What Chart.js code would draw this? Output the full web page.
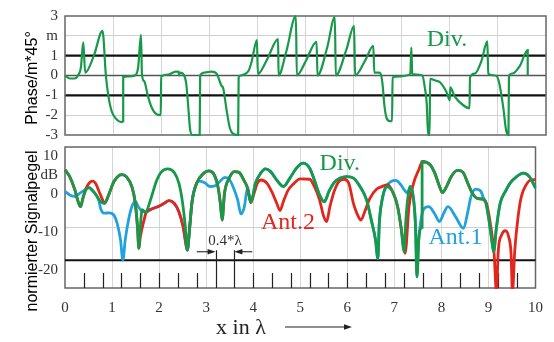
<!DOCTYPE html>
<html>
<head>
<meta charset="utf-8">
<script src="https://cdn.jsdelivr.net/npm/chart.js@4.4.1/dist/chart.umd.min.js"></script>
<style>
  body { margin: 0; background: #fff; }
  #wrap { position: relative; width: 554px; height: 342px; }
  canvas { position: absolute; left: 0; }
  #phase { top: 0; }
  #level { top: 140px; }
</style>
</head>
<body>
<div id="wrap">
  <canvas id="phase" width="554" height="140"></canvas>
  <canvas id="level" width="554" height="202"></canvas>
</div>
<script>
// x positions in wavelengths
const xTickLabels = ['0', '1', '2', '3', '4', '5', '6', '7', '8', '9', '10'];

// top panel: phase (m*45 deg) of the diversity signal
const phaseTicks = [3, 2, 1, 0, -1, -2, -3];
const phaseLabels = ['3', 'm', '1', '0', '-1', '-2', '-3'];
const phaseX = [0, 0.1, 0.2, 0.27, 0.33, 0.38, 0.42, 0.6, 0.78, 0.85, 0.9, 0.97, 1.05, 1.18, 1.21, 1.21, 1.3, 1.45, 1.52, 1.58,
  1.6, 1.65, 1.72, 1.8, 1.9, 1.99, 2.0, 2.15, 2.3, 2.36, 2.37, 2.38, 2.45, 2.52, 2.56, 2.6, 2.65, 2.8, 2.81, 2.9,
  3.05, 3.15, 3.25, 3.29, 3.36, 3.43, 3.5, 3.6, 3.61, 3.65, 3.72, 3.82, 3.88, 3.99, 4.01, 4.2, 4.43, 4.44, 4.6, 4.8,
  4.82, 5.0, 5.23, 5.25, 5.45, 5.61, 5.63, 5.85, 6.01, 6.03, 6.25, 6.41, 6.43, 6.52, 6.56, 6.6, 6.64, 6.68, 6.75, 6.8,
  6.81, 6.95, 7.1, 7.18, 7.2, 7.22, 7.3, 7.43, 7.48, 7.52, 7.55, 7.58, 7.59, 7.7, 7.8, 7.93, 8.0, 8.01, 8.1, 8.28,
  8.41, 8.42, 8.52, 8.66, 8.78, 8.8, 8.95, 9.02, 9.11, 9.17, 9.22, 9.23, 9.3, 9.46, 9.62, 9.62];
const phaseY = [0, -0.15, -0.15, 0, 0.4, 1.67, 0.15, 1.0, 2.25, 0, -1.0, -1.8, -2.15, -2.35, -2.3, -0.08, -0.05, 0, 0.4, 2.05,
  0.05, -0.3, -1.0, -1.6, -1.95, -2.0, -0.05, 0.05, 0.2, 0.2, 0.0, 0.15, 0.1, -0.4, -1.5, -2.7, -3.0, -3.0, 0.0, 0.15,
  0.2, 0.1, -0.5, -0.65, -1.75, -2.67, -2.95, -3.0, -0.1, 0, 0.05, 0.25, 0.7, 1.78, 0.08, 0.8, 1.83, 0.0, 1.2, 3.0,
  0.0, 0.7, 1.7, 0.0, 1.4, 2.95, 0.0, 1.3, 2.5, 0.0, 0.8, 1.5, 0.15, 0.15, 0.1, -0.4, -1.5, -2.1, -2.3, -2.3,
  -0.1, -0.05, 0.0, 0.1, 1.42, 0.08, 0.05, 0.0, -0.6, -1.4, -3.0, -3.0, -0.17, -0.25, -0.35, -0.83, -1.25, -0.6, -1.05, -1.5,
  -1.65, -0.08, 0.1, 0.75, 1.72, 0.08, 0.0, -0.3, -1.58, -2.75, -3.0, 0.0, 0.1, 0.5, 1.28, 0.0];

// bottom panel: normalised signal level in dB
const levelTicks = [10, 5, 0, -10, -20];
const levelLabels = ['10', 'dB', '0', '-10', '-20'];
const floorLevel = -18.6;

const divX = [0, 0.1, 0.21, 0.28, 0.33, 0.38, 0.45, 0.51, 0.58, 0.66,
  0.76, 0.84, 0.94, 1.04, 1.14, 1.21, 1.31, 1.42, 1.49, 1.54,
  1.57, 1.6, 1.64, 1.71, 1.84, 1.94, 2.04, 2.18, 2.32, 2.42,
  2.49, 2.55, 2.6, 2.65, 2.7, 2.8, 2.95, 3.05, 3.15, 3.25,
  3.3, 3.34, 3.39, 3.49, 3.6, 3.7, 3.8, 3.88, 3.95, 4.05,
  4.16, 4.26, 4.37, 4.5, 4.64, 4.78, 4.92, 5.06, 5.2, 5.3,
  5.41, 5.51, 5.61, 5.72, 5.85, 5.99, 6.13, 6.27, 6.41, 6.51,
  6.6, 6.65, 6.68, 6.74, 6.83, 6.96, 7.07, 7.14, 7.21, 7.24,
  7.29, 7.34, 7.41, 7.45, 7.48, 7.52, 7.59, 7.59, 7.76, 7.86,
  7.96, 8.02, 8.11, 8.21, 8.34, 8.46, 8.56, 8.66, 8.76, 8.87,
  8.94, 9.0, 9.07, 9.11, 9.17, 9.25, 9.36, 9.46, 9.6, 9.74,
  9.87, 10];
const divY = [5.1, 3.3, -0.2, -3.3, -4.6, -2.4, 0, 0.4, -0.3, -1.5,
  -3.3, -3.7, -1.1, 2.0, 3.5, 3.8, 3.2, 0.7, -3.3, -9.8,
  -15.5, -10, -5.4, -6, -1.9, 2.0, 4.4, 5.3, 4.4, 1.6,
  -2.8, -9, -16, -10, -3.3, 1.6, 4.2, 4.8, 4.2, 0.7,
  -3.5, -8.1, -1.1, 2.9, 4.6, 4.4, 2.4, 0.3, -3.5, 1.6,
  4.2, 5.3, 4.6, 2.4, 0.7, 2.9, 5.5, 6.8, 5.5, 2.4,
  -1.5, -3.3, -0.6, 1.7, 2.9, 3.3, 2.9, 0.7, -2.8, -8.1,
  -13.3, -18.2, -9, -2.8, 0.7, -0.6, -4.6, -9.8, -16.4, -9,
  -1.9, 0.7, -2.8, -9.8, -23, -13, -10, 7.2, 6.4, 4.2,
  0.7, -0.9, 0.7, 3.3, 4.9, 4.4, 1.6, -1.1, -2.4, -2.6,
  -3.3, -7.2, -13.3, -16.4, -10, -3.7, -0.6, 1.6, 3.3, 4.2,
  3.3, 0.3];

const ant2X = [0, 0.1, 0.21, 0.28, 0.33, 0.38, 0.45, 0.52, 0.59, 0.66,
  0.73, 0.8, 0.84, 0.94, 1.04, 1.14, 1.21, 1.31, 1.42, 1.49,
  1.54, 1.57, 1.6, 1.68, 1.73, 1.84, 1.97, 2.11, 2.21, 2.32,
  2.42, 2.51, 2.58, 2.6, 2.65, 2.7, 2.8, 2.95, 3.05, 3.15,
  3.25, 3.3, 3.34, 3.39, 3.49, 3.6, 3.7, 3.8, 3.88, 3.95,
  4.02, 4.09, 4.17, 4.29, 4.4, 4.5, 4.57, 4.64, 4.74, 4.85,
  5.0, 5.2, 5.3, 5.41, 5.5, 5.56, 5.63, 5.72, 5.82, 5.93,
  6.03, 6.13, 6.2, 6.29, 6.37, 6.48, 6.62, 6.72, 6.86, 6.96,
  7.07, 7.14, 7.23, 7.31, 7.41, 7.52, 7.6, 7.76, 7.86, 7.96,
  8.02, 8.11, 8.21, 8.34, 8.46, 8.56, 8.66, 8.76, 8.87, 8.94,
  8.98, 9.04, 9.12, 9.17, 9.21, 9.28, 9.36, 9.43, 9.48, 9.51,
  9.56, 9.63, 9.7, 9.8, 9.9, 10];
const ant2Y = [5.1, 3.3, -0.2, -3.3, -4.6, -2.4, 0.3, 1.7, 2.1, 1.3,
  -0.8, -2.8, -3.7, -1.1, 2.0, 3.5, 3.8, 3.2, 0.7, -3.3,
  -9.8, -15.5, -12.6, -8.1, -6, -5.2, -4.6, -3.7, -3.0, -3.7,
  -5.9, -9.8, -15.1, -16, -10, -3.3, 1.6, 4.2, 4.8, 4.2,
  0.7, -3.5, -8.1, -1.1, 2.9, 4.6, 4.4, 2.4, 0.3, -3.5,
  -1.0, 1.6, 2.4, 1.6, -0.8, -3.7, -5.6, -3.3, -0.3, 1.3,
  2.7, 2.6, 0.7, -2.8, -7.2, -8.5, -4.6, -0.6, 2.0, 2.6,
  1.6, -3.7, -6.2, -8.1, -5.9, -2.4, 0, 0.6, 1.2, -0.6,
  -4.6, -9.8, -16.8, -4.6, 1.6, 5.1, 7.3, 6.4, 4.2, 0.7,
  -0.9, 0.7, 3.3, 4.9, 4.4, 1.6, -1.1, -2.4, -2.6, -3.3,
  -4.8, -9, -16.8, -27, -16, -12, -10.9, -12.5, -16.8, -27,
  -16, -7.2, -1.9, 1.1, 2.4, 2.5];

const ant1X = [0, 0.1, 0.21, 0.31, 0.42, 0.45, 0.51, 0.58, 0.66, 0.72,
  0.76, 0.83, 0.94, 1.04, 1.11, 1.18, 1.23, 1.28, 1.35, 1.42,
  1.5, 1.55, 1.62, 1.73, 1.84, 1.97, 2.11, 2.21, 2.32, 2.42,
  2.51, 2.58, 2.6, 2.65, 2.7, 2.8, 2.86, 2.98, 3.08, 3.19,
  3.29, 3.4, 3.5, 3.57, 3.67, 3.74, 3.81, 3.88, 3.95, 4.05,
  4.16, 4.26, 4.37, 4.5, 4.64, 4.78, 4.92, 5.06, 5.2, 5.3,
  5.41, 5.51, 5.61, 5.72, 5.85, 5.99, 6.13, 6.27, 6.41, 6.51,
  6.6, 6.65, 6.68, 6.74, 6.83, 6.93, 7.03, 7.14, 7.21, 7.28,
  7.34, 7.41, 7.45, 7.48, 7.52, 7.56, 7.62, 7.73, 7.85, 7.96,
  8.05, 8.14, 8.3, 8.47, 8.56, 8.63, 8.73, 8.84, 8.9, 8.94,
  9.0, 9.07, 9.11, 9.17, 9.25, 9.36, 9.46, 9.6, 9.74, 9.87, 10];
const ant1Y = [-0.6, -1.5, -1.9, -1.1, -0.2, 0, 0.4, -0.3, -1.5, -3.0,
  -5.2, -6.3, -6.2, -6.8, -9, -13.3, -18.6, -13.3, -8.1, -4.6,
  -3.3, -4.4, -5.6, -6, -5.2, -4.6, -3.7, -3.0, -3.7, -5.9,
  -9.8, -15.1, -16, -10, -3.3, 1.6, 2.1, 1.6, 0.7, 0.9,
  2.0, 3.1, 2.4, 0.7, -2.8, -6.5, -4.7, 0.3, -3.5, 1.6,
  4.2, 5.3, 4.6, 2.4, 0.7, 2.9, 5.5, 6.8, 5.5, 2.4,
  -1.5, -3.3, -0.6, 1.7, 2.9, 3.3, 2.9, 0.7, -2.8, -8.1,
  -13.3, -18.2, -9, -2.8, 0.7, 2.0, 2.3, 1.1, -0.2, -1.0,
  0.7, -2.8, -9.8, -23, -13, -8.5, -5.3, -4.6, -6.3, -8.5,
  -6.3, -4.6, -7.2, -10.3, -6, -1.9, 0, -0.6, -2.5, -3.3,
  -7.2, -13.3, -16.4, -10, -3.7, -0.6, 1.6, 3.3, 4.2, 3.3, 0.3];

const SERIF = "'Liberation Serif', 'Times New Roman', serif";
const SANS = "'Liberation Sans', Arial, sans-serif";
const GREEN = '#17994a';
const RED = '#e2261d';
const BLUE = '#22a2dc';

function pts(xs, ys) {
  return xs.map((x, i) => ({ x: x, y: ys[i] }));
}

// frame round the plot area
function drawFrame(chart) {
  const a = chart.chartArea, ctx = chart.ctx;
  ctx.save();
  ctx.strokeStyle = '#666';
  ctx.lineWidth = 1.5;
  ctx.strokeRect(a.left, a.top, a.right - a.left, a.bottom - a.top);
  ctx.restore();
}

function drawHLine(chart, v, color, w) {
  const a = chart.chartArea, ctx = chart.ctx;
  const y = chart.scales.y.getPixelForValue(v);
  ctx.save();
  ctx.strokeStyle = color;
  ctx.lineWidth = w;
  ctx.beginPath();
  ctx.moveTo(a.left, y);
  ctx.lineTo(a.right, y);
  ctx.stroke();
  ctx.restore();
}

function drawLabel(chart, text, xv, yv, color, font) {
  const ctx = chart.ctx;
  ctx.save();
  ctx.fillStyle = color;
  ctx.font = font;
  ctx.textAlign = 'center';
  ctx.textBaseline = 'middle';
  ctx.fillText(text, chart.scales.x.getPixelForValue(xv), chart.scales.y.getPixelForValue(yv));
  ctx.restore();
}

function drawVText(ctx, text, x, y) {
  ctx.save();
  ctx.translate(x, y);
  ctx.rotate(-Math.PI / 2);
  ctx.fillStyle = '#000';
  ctx.font = '16px ' + SANS;
  ctx.textAlign = 'center';
  ctx.textBaseline = 'middle';
  ctx.fillText(text, 0, 0);
  ctx.restore();
}

// horizontal arrow ending at x2 with a filled head
function drawArrow(ctx, x1, y, x2, color) {
  const dir = x2 > x1 ? 1 : -1;
  ctx.save();
  ctx.strokeStyle = color;
  ctx.fillStyle = color;
  ctx.lineWidth = 1.1;
  ctx.beginPath();
  ctx.moveTo(x1, y);
  ctx.lineTo(x2 - dir * 5, y);
  ctx.stroke();
  ctx.beginPath();
  ctx.moveTo(x2, y);
  ctx.lineTo(x2 - dir * 8, y - 2.8);
  ctx.lineTo(x2 - dir * 8, y + 2.8);
  ctx.closePath();
  ctx.fill();
  ctx.restore();
}

// fixed axis box, no extra room for the end labels
function fixY(s) {
  s.width = 65;
  s.paddingTop = 0;
  s.paddingBottom = 0;
}

function xScale(showLabels) {
  return {
    type: 'linear', min: 0, max: 10,
    ticks: {
      stepSize: 1, display: showLabels, padding: 11, color: '#333', autoSkip: false,
      font: { family: SERIF, size: 15 },
      callback: v => xTickLabels[v]
    },
    grid: {
      drawTicks: false, lineWidth: 1,
      color: c => (c.tick && c.tick.value > 0 && c.tick.value < 10) ? '#d6d6d6' : 'rgba(0,0,0,0)'
    },
    border: { display: false },
    afterFit: s => { s.height = showLabels ? 54 : 0; }
  };
}

const phasePlugin = {
  id: 'phaseDecor',
  beforeDatasetsDraw(chart) {
    drawHLine(chart, 0, '#555', 1.6);
    drawHLine(chart, 1, '#111', 2.2);
    drawHLine(chart, -1, '#111', 2.2);
    drawFrame(chart);
  },
  afterDraw(chart) {
    drawLabel(chart, 'Div.', 7.94, 1.8, GREEN, '24px ' + SERIF);
    drawVText(chart.ctx, 'Phase/m*45°', 33, 78);
  }
};

const levelPlugin = {
  id: 'levelDecor',
  beforeDatasetsDraw(chart) {
    const ctx = chart.ctx, a = chart.chartArea;
    const sx = chart.scales.x, sy = chart.scales.y;
    drawFrame(chart);
    drawHLine(chart, floorLevel, '#111', 2);
    // short marks every 0.4 lambda along the bottom strip
    ctx.save();
    ctx.strokeStyle = '#222';
    ctx.lineWidth = 1.2;
    ctx.beginPath();
    for (let k = 1; k < 25; k++) {
      const px = Math.round(sx.getPixelForValue(k * 0.4)) + 0.5;
      ctx.moveTo(px, sy.getPixelForValue(-21.97));
      ctx.lineTo(px, a.bottom);
    }
    // the two longer marks of the 0.4*lambda note
    [3.2, 3.6].forEach(v => {
      const px = Math.round(sx.getPixelForValue(v)) + 0.5;
      ctx.moveTo(px, sy.getPixelForValue(-16));
      ctx.lineTo(px, a.bottom);
    });
    ctx.stroke();
    ctx.restore();
    const ay = sy.getPixelForValue(-16.4);
    drawArrow(ctx, sx.getPixelForValue(2.8), ay, sx.getPixelForValue(3.2), '#222');
    drawArrow(ctx, sx.getPixelForValue(3.98), ay, sx.getPixelForValue(3.6), '#222');
    drawLabel(chart, '0.4*λ', 3.4, -13.6, '#333', '15px ' + SERIF);
  },
  afterDraw(chart) {
    const ctx = chart.ctx;
    drawLabel(chart, 'Div.', 5.84, 6.7, GREEN, '24px ' + SERIF);
    drawLabel(chart, 'Ant.2', 4.74, -8.9, RED, '24px ' + SERIF);
    drawLabel(chart, 'Ant.1', 8.3, -12.6, BLUE, '24px ' + SERIF);
    drawVText(ctx, 'normierter Signalpegel', 33, 91);
    ctx.save();
    ctx.fillStyle = '#222';
    ctx.font = '22px ' + SERIF;
    ctx.textAlign = 'center';
    ctx.textBaseline = 'middle';
    ctx.fillText('x in λ', 241, 188);
    ctx.restore();
    drawArrow(ctx, 285, 187, 352, '#222');
  }
};

const common = {
  responsive: false,
  animation: false,
  events: [],
  plugins: { legend: { display: false }, tooltip: { enabled: false } }
};

new Chart(document.getElementById('phase'), {
  type: 'line',
  data: {
    datasets: [{
      data: pts(phaseX, phaseY), borderColor: GREEN, borderWidth: 2.2,
      pointRadius: 0, cubicInterpolationMode: 'monotone', clip: 2
    }]
  },
  options: Object.assign({}, common, {
    layout: { padding: { top: 16, right: 8, bottom: 5, left: 0 } },
    scales: {
      x: xScale(false),
      y: {
        min: -3, max: 3,
        afterBuildTicks: s => { s.ticks = phaseTicks.map(v => ({ value: v })); },
        ticks: {
          padding: 7, color: '#333', autoSkip: false, font: { family: SERIF, size: 15 },
          callback: v => phaseLabels[phaseTicks.indexOf(v)]
        },
        grid: {
          drawTicks: false,
          color: c => (c.tick && Math.abs(c.tick.value) === 2) ? '#d0d0d0' : 'rgba(0,0,0,0)'
        },
        border: { display: false },
        afterFit: fixY
      }
    }
  }),
  plugins: [phasePlugin]
});

new Chart(document.getElementById('level'), {
  type: 'line',
  data: {
    datasets: [
      { label: 'Div.', data: pts(divX, divY), borderColor: GREEN, borderWidth: 2.8,
        pointRadius: 0, cubicInterpolationMode: 'monotone', clip: 1 },
      { label: 'Ant.2', data: pts(ant2X, ant2Y), borderColor: RED, borderWidth: 2.8,
        pointRadius: 0, cubicInterpolationMode: 'monotone', clip: 1 },
      { label: 'Ant.1', data: pts(ant1X, ant1Y), borderColor: BLUE, borderWidth: 2.8,
        pointRadius: 0, cubicInterpolationMode: 'monotone', clip: 1 }
    ]
  },
  options: Object.assign({}, common, {
    layout: { padding: { top: 7, right: 8, bottom: 0, left: 0 } },
    scales: {
      x: xScale(true),
      y: {
        min: -25.9, max: 11.05,
        afterBuildTicks: s => { s.ticks = levelTicks.map(v => ({ value: v })); },
        ticks: {
          padding: 7, labelOffset: 5, color: '#333', autoSkip: false, font: { family: SERIF, size: 15 },
          callback: v => levelLabels[levelTicks.indexOf(v)]
        },
        grid: {
          drawTicks: false,
          color: c => (c.tick && c.tick.value === -10) ? '#d0d0d0' : 'rgba(0,0,0,0)'
        },
        border: { display: false },
        afterFit: fixY
      }
    }
  }),
  plugins: [levelPlugin]
});
</script>
</body>
</html>
